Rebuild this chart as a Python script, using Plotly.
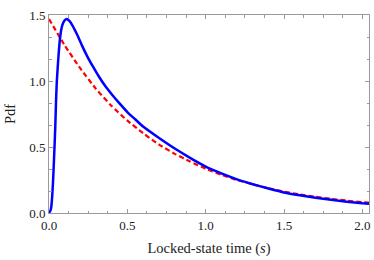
import plotly.graph_objects as go

# Blue solid curve
blue_x = [0, 0.01, 0.015, 0.02, 0.025, 0.03, 0.04, 0.045, 0.05, 0.06, 0.07, 0.08, 0.09, 0.10,
          0.113, 0.13, 0.15, 0.18, 0.21, 0.245, 0.28, 0.32, 0.36, 0.4, 0.45, 0.5, 0.55, 0.6,
          0.7, 0.8, 0.9, 1.0, 1.1, 1.2, 1.3, 1.4, 1.5, 1.6, 1.7, 1.8, 1.9, 2.0, 2.045]
blue_y = [0, 0.02, 0.05, 0.12, 0.22, 0.35, 0.65, 0.85, 1.0, 1.18, 1.32, 1.40, 1.44, 1.46,
          1.47, 1.455, 1.42, 1.35, 1.27, 1.185, 1.11, 1.03, 0.96, 0.90, 0.83, 0.765, 0.71, 0.655,
          0.57, 0.49, 0.418, 0.352, 0.30, 0.255, 0.218, 0.185, 0.155, 0.134, 0.116, 0.100, 0.086, 0.074, 0.070]

# Red dashed curve
red_x = [0, 0.1, 0.2, 0.3, 0.4, 0.5, 0.6, 0.7, 0.8, 0.9, 1.0, 1.1, 1.2, 1.3, 1.4, 1.5,
         1.6, 1.7, 1.8, 1.9, 2.0, 2.045]
red_y = [1.47, 1.27, 1.095, 0.94, 0.81, 0.70, 0.605, 0.52, 0.45, 0.39, 0.335, 0.29, 0.25, 0.217,
         0.188, 0.162, 0.141, 0.123, 0.107, 0.094, 0.082, 0.078]

FONT = "Liberation Serif"
AXC = "#9a9a9a"
TXT = "#222222"

fig = go.Figure()
fig.add_trace(go.Scatter(x=red_x, y=red_y, mode="lines",
                         line=dict(color="#ff0000", width=2.2, dash="5px,3px", shape="spline", smoothing=0.5),
                         showlegend=False))
fig.add_trace(go.Scatter(x=blue_x, y=blue_y, mode="lines",
                         line=dict(color="#0000ff", width=2.5, shape="spline", smoothing=0.4),
                         showlegend=False))

axis_common = dict(showline=True, linecolor=AXC, linewidth=1, mirror="allticks", ticks="inside",
                   ticklen=4, tickcolor=AXC, tickwidth=1, showgrid=False, zeroline=False,
                   automargin=False,
                   tickfont=dict(family=FONT, size=13, color=TXT), tickformat=".1f")

fig.update_layout(
    width=374, height=260,
    margin=dict(l=49, r=5, t=15, b=47),
    plot_bgcolor="white", paper_bgcolor="white",
    xaxis=dict(range=[0, 2.042], dtick=0.5, tick0=0,
               minor=dict(dtick=0.125, ticks="inside", ticklen=2.5, tickcolor=AXC, showgrid=False),
               title=dict(text="Locked-state time (<i>s</i>)", font=dict(family=FONT, size=14.5, color=TXT), standoff=11),
               **axis_common),
    yaxis=dict(range=[0, 1.5], dtick=0.5, tick0=0,
               minor=dict(dtick=0.5/3, ticks="inside", ticklen=2.5, tickcolor=AXC, showgrid=False),
               title=dict(text="Pdf", font=dict(family=FONT, size=14.5, color=TXT), standoff=10),
               **axis_common),
)

fig.write_html("out.html",
               config={"displayModeBar": False},
               post_script="document.body.style.margin='0';document.body.style.padding='0';document.body.style.overflow='hidden';")
